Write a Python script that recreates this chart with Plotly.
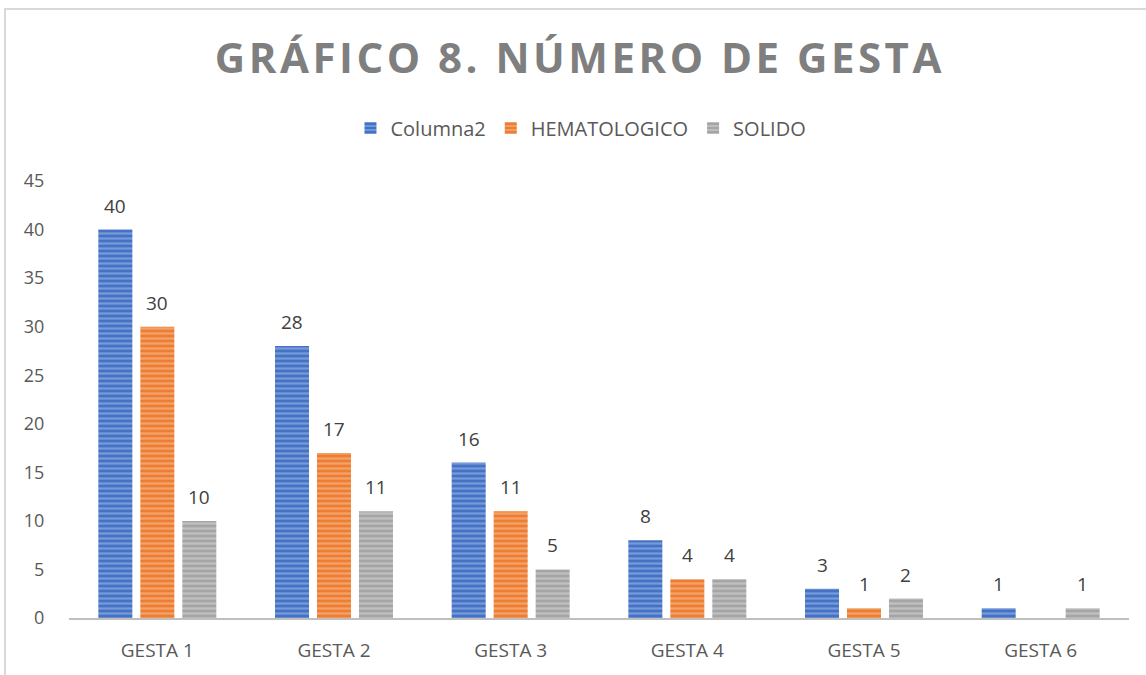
import plotly.graph_objects as go

categories = ["GESTA 1", "GESTA 2", "GESTA 3", "GESTA 4", "GESTA 5", "GESTA 6"]
series_names = ["Columna2", "HEMATOLOGICO", "SOLIDO"]
columna2 = [40, 28, 16, 8, 3, 1]
hematologico = [30, 17, 11, 4, 1, 0]
solido = [10, 11, 5, 4, 2, 1]
y_ticks = [0, 5, 10, 15, 20, 25, 30, 35, 40, 45]

base_colors = ["#4472C4", "#ED7D31", "#A5A5A5"]
light_colors = ["#A9C1EC", "#F8C7A5", "#DCDCDC"]
all_values = [columna2, hematologico, solido]

FONT = "Open Sans"
fig = go.Figure()
for name, vals, bc, lc in zip(series_names, all_values, base_colors, light_colors):
    fig.add_trace(go.Bar(
        name=name, x=categories, y=vals,
        marker=dict(color=bc, line=dict(width=0),
                    pattern=dict(shape="-", fgcolor=lc, bgcolor=bc, size=5,
                                 solidity=0.45, fillmode="overlay")),
    ))

# data labels
bargap = 0.287
groupgap = 0.19
slot = (1 - bargap) / 3
annotations = []
for i, vals in enumerate(all_values):
    off = (i - 1) * slot
    for j, v in enumerate(vals):
        if v == 0:
            continue
        annotations.append(dict(
            x=j + off, y=v, xref="x", yref="y", text=str(v), showarrow=False,
            yanchor="middle", yshift=24,
            font=dict(family=FONT, size=19, color="#404040")))

fig.update_layout(
    width=1146, height=675,
    margin=dict(l=69, r=17, t=181, b=57),
    paper_bgcolor="white", plot_bgcolor="white",
    barmode="group", bargap=bargap, bargroupgap=groupgap,
    title=dict(text="<b>GRÁFICO 8. NÚMERO DE GESTA</b>", x=0.506, xanchor="center",
               y=1 - 58 / 675, yanchor="middle",
               font=dict(family=FONT, size=42, color="#7F7F7F")),
    legend=dict(orientation="h", x=0.483, xanchor="center", y=(618 - 128) / 437,
                yanchor="middle", font=dict(family=FONT, size=20, color="#595959"),
                itemwidth=30, traceorder="normal"),
    font=dict(family=FONT, color="#595959"),
    annotations=annotations,
    xaxis=dict(showline=True, linecolor="#BFBFBF", linewidth=2, showgrid=False,
               ticks="outside", ticklen=14, tickcolor="rgba(0,0,0,0)",
               tickfont=dict(family=FONT, size=19, color="#595959")),
    yaxis=dict(range=[0, 45], tickvals=y_ticks, showgrid=False, zeroline=False,
               showline=False, ticks="outside", ticklen=20, tickcolor="rgba(0,0,0,0)",
               tickfont=dict(family=FONT, size=18, color="#595959")),
    shapes=[dict(type="rect", xref="paper", yref="paper",
                 x0=(5 - 69) / 1060, x1=(1160 - 69) / 1060,
                 y0=(618 - 690) / 437, y1=(618 - 9) / 437,
                 line=dict(color="#D9D9D9", width=2), fillcolor="rgba(0,0,0,0)",
                 layer="below")],
)

post = """
document.body.style.margin = '0';
var t = document.querySelector('.gtitle');
if (t) { t.style.letterSpacing = '3.5px'; }
"""
fig.write_html("out.html", post_script=post, config={"displayModeBar": False})
